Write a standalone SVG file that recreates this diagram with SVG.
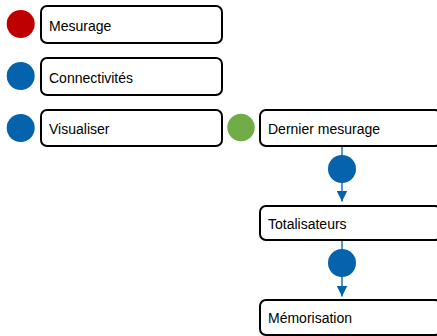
<svg xmlns="http://www.w3.org/2000/svg" width="437" height="336" viewBox="0 0 437 336">
<defs>
<style>
.box{fill:#fff;stroke:#000;stroke-width:2}
.lbl{font-family:"Liberation Sans",Arial,sans-serif;font-size:14px;fill:#000}
.edge{stroke:#1f6fb8;stroke-width:1.5;fill:none}
.blue{fill:#0563ad}
.red{fill:#c00000}
.green{fill:#70ad47}
</style>
<marker id="arr" viewBox="0 0 10 10" refX="10" refY="5" markerWidth="11" markerHeight="11" markerUnits="userSpaceOnUse" orient="auto">
<path d="M0,0 L10,5 L0,10 Z" fill="#0563ad"/>
</marker>
</defs>
<rect width="437" height="336" fill="#fff"/>
<g id="connectors">
<line class="edge" x1="342" y1="146" x2="342" y2="201.5" marker-end="url(#arr)"/>
<line class="edge" x1="342" y1="240" x2="342" y2="296.5" marker-end="url(#arr)"/>
<circle class="blue" cx="342" cy="169" r="14"/>
<circle class="blue" cx="342" cy="263" r="14"/>
</g>
<g id="mesurage">
<circle class="red" cx="20.7" cy="24" r="14"/>
<rect class="box" x="41" y="6" width="181" height="37" rx="6"/>
<text class="lbl" x="49" y="31">Mesurage</text>
</g>
<g id="connectivites">
<circle class="blue" cx="20.7" cy="76" r="14"/>
<rect class="box" x="41" y="58" width="181" height="37" rx="6"/>
<text class="lbl" x="49" y="82.5">Connectivités</text>
</g>
<g id="visualiser">
<circle class="blue" cx="20.7" cy="128" r="14"/>
<rect class="box" x="41" y="110" width="181" height="36" rx="6"/>
<text class="lbl" x="49" y="134">Visualiser</text>
</g>
<g id="dernier-mesurage">
<circle class="green" cx="241" cy="127.5" r="13.7"/>
<rect class="box" x="260" y="110" width="181" height="36" rx="6"/>
<text class="lbl" x="268" y="134">Dernier mesurage</text>
</g>
<g id="totalisateurs">
<rect class="box" x="260" y="206" width="181" height="34" rx="6"/>
<text class="lbl" x="268" y="228.5">Totalisateurs</text>
</g>
<g id="memorisation">
<rect class="box" x="260" y="300" width="181" height="35" rx="6"/>
<text class="lbl" x="268" y="323">Mémorisation</text>
</g>
</svg>
